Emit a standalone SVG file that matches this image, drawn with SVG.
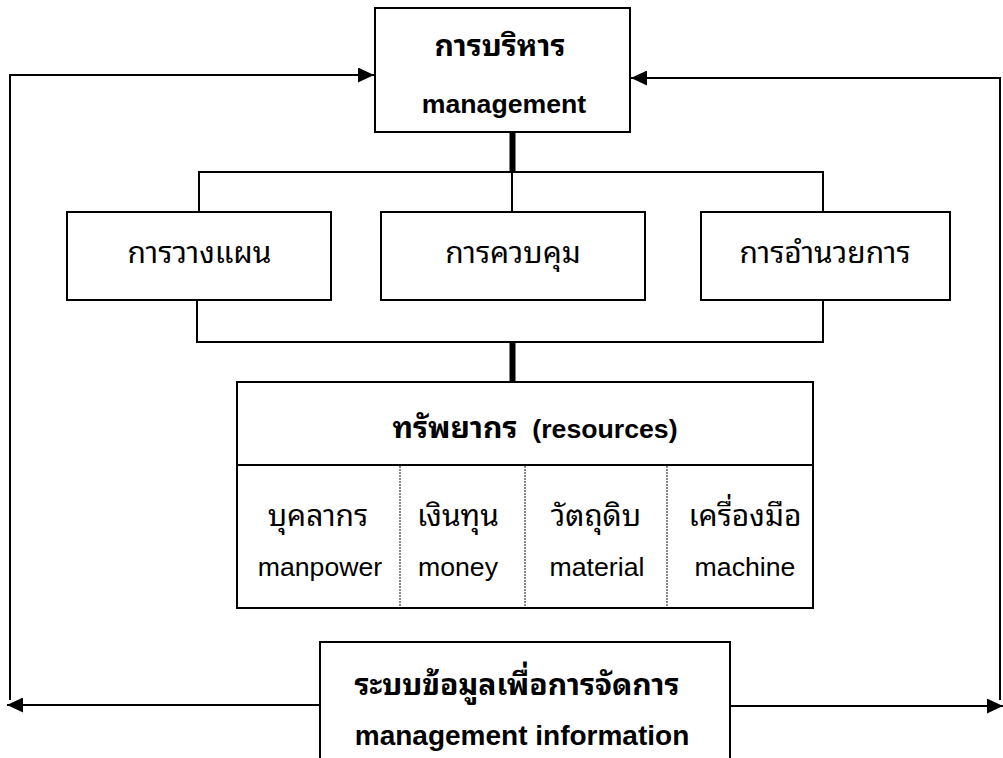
<svg xmlns="http://www.w3.org/2000/svg" width="1003" height="758" viewBox="0 0 1003 758">
<style>
text{font-family:"Liberation Sans","Noto Sans Thai Looped","Loma","Garuda","Noto Sans Thai","Noto Sans",sans-serif;font-size:26.67px;fill:#000;text-anchor:middle}
.b{font-weight:bold}
.th{font-size:30px}
.box{fill:#fff;stroke:#000;stroke-width:2}
.ln{fill:none;stroke:#000;stroke-width:2}
.thick{fill:none;stroke:#000;stroke-width:6}
.dot{fill:none;stroke:#888;stroke-width:2;stroke-dasharray:2 1}
</style>
<defs>
<marker id="ah" viewBox="0 0 16 15" refX="16" refY="7.5" markerWidth="16" markerHeight="15" markerUnits="userSpaceOnUse" orient="auto">
<path d="M0,0 L16,7.5 L0,15 Z" fill="#000"/>
</marker>
</defs>
<g id="connectors">
<polyline class="ln" points="10,700 10,75 374,75" marker-end="url(#ah)"/>
<polyline class="ln" points="1000,700 1000,78 631,78" marker-end="url(#ah)"/>
<line class="ln" x1="320" y1="705" x2="7" y2="705" marker-end="url(#ah)"/>
<line class="ln" x1="730" y1="706" x2="1003" y2="706" marker-end="url(#ah)"/>
<line class="thick" x1="512.5" y1="132" x2="512.5" y2="172"/>
<polyline class="ln" points="199,213 199,172 823,172 823,213"/>
<line class="ln" x1="512" y1="172" x2="512" y2="213"/>
<polyline class="ln" points="197,300 197,342 823,342 823,300"/>
<line class="thick" x1="512.5" y1="342" x2="512.5" y2="382"/>
</g>
<g id="management">
<rect class="box" x="375" y="8" width="255" height="124"/>
<text class="b th" x="500" y="56">การบริหาร</text>
<text class="b" x="504" y="113">management</text>
</g>
<g id="planning">
<rect class="box" x="67" y="212" width="264" height="88"/>
<text class="th" x="199.5" y="263">การวางแผน</text>
</g>
<g id="controlling">
<rect class="box" x="381" y="212" width="264" height="88"/>
<text class="th" x="513" y="263">การควบคุม</text>
</g>
<g id="directing">
<rect class="box" x="701" y="212" width="249" height="88"/>
<text class="th" x="825" y="263">การอำนวยการ</text>
</g>
<g id="resources">
<rect class="box" x="237" y="382" width="576" height="226"/>
<line class="ln" x1="237" y1="465" x2="813" y2="465"/>
<text class="b" x="535" y="438" xml:space="preserve"><tspan class="th">ทรัพยากร</tspan>  (resources)</text>
<line class="dot" x1="400" y1="466" x2="400" y2="607"/>
<line class="dot" x1="525" y1="466" x2="525" y2="607"/>
<line class="dot" x1="667" y1="466" x2="667" y2="607"/>
<text class="th" x="318" y="526">บุคลากร</text>
<text x="320" y="576">manpower</text>
<text class="th" x="458" y="526">เงินทุน</text>
<text x="458" y="576">money</text>
<text class="th" x="596" y="526">วัตถุดิบ</text>
<text x="597" y="576">material</text>
<text class="th" x="745" y="526">เครื่องมือ</text>
<text x="745" y="576">machine</text>
</g>
<g id="mis">
<rect class="box" x="320" y="642" width="410" height="130"/>
<text class="b" x="517" y="695" style="font-size:30px">ระบบข้อมูลเพื่อการจัดการ</text>
<text class="b" x="522" y="745" style="font-size:28px">management information</text>
</g>
</svg>
